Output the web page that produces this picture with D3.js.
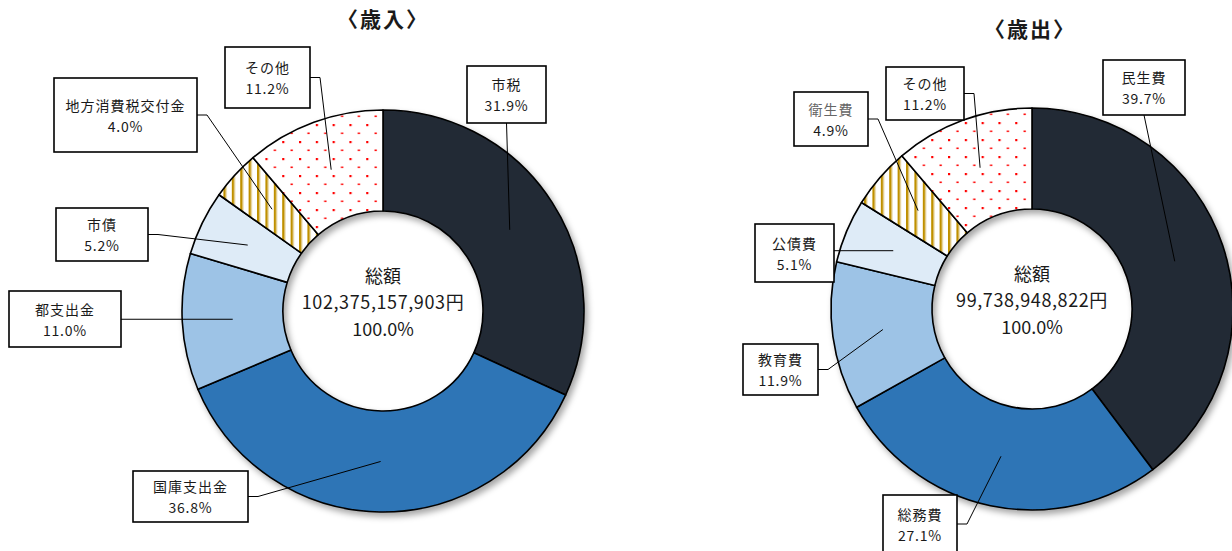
<!DOCTYPE html>
<html>
<head>
<meta charset="utf-8">
<script src="https://cdn.jsdelivr.net/npm/d3@7"></script>
<style>
  html, body { margin: 0; padding: 0; background: #fff; }
  svg { display: block; }
  text { font-family: "Noto Sans CJK JP", "Noto Sans", sans-serif; fill: #1a1a1a; }
</style>
</head>
<body>
<svg id="chart" width="1232" height="551"></svg>
<script>
// Revenue (歳入) breakdown, percent of total
const revenueCategories = ["市税", "国庫支出金", "都支出金", "市債", "地方消費税交付金", "その他"];
const revenueValues = [31.9, 36.8, 11.0, 5.2, 4.0, 11.2];
const revenueTotal = "102,375,157,903円";

// Expenditure (歳出) breakdown, percent of total
const expenditureCategories = ["民生費", "総務費", "教育費", "公債費", "衛生費", "その他"];
const expenditureValues = [39.7, 27.1, 11.9, 5.1, 4.9, 11.2];
const expenditureTotal = "99,738,948,822円";

const titles = ["〈歳入〉", "〈歳出〉"];
const centerHeading = "総額";
const centerShare = "100.0%";

// Slice fills in drawing order (clockwise from 12 o'clock)
const fills = ["#222a35", "#2e75b6", "#9dc3e6", "#deebf7", "url(#stripes)", "url(#dots)"];

const svg = d3.select("#chart");
const defs = svg.append("defs");

// soft drop shadow under each ring
const shadow = defs.append("filter").attr("id", "shadow")
  .attr("x", "-10%").attr("y", "-10%").attr("width", "130%").attr("height", "130%");
shadow.append("feDropShadow").attr("dx", 3).attr("dy", 4)
  .attr("stdDeviation", 3).attr("flood-color", "#000").attr("flood-opacity", 0.35);

// vertical gold stripes
const stripes = defs.append("pattern").attr("id", "stripes")
  .attr("patternUnits", "userSpaceOnUse").attr("width", 8.4).attr("height", 10);
stripes.append("rect").attr("width", 8.4).attr("height", 10).attr("fill", "#fff");
stripes.append("rect").attr("x", 0).attr("width", 2.4).attr("height", 10).attr("fill", "#bf9000");
stripes.append("rect").attr("x", 2.4).attr("width", 0.8).attr("height", 10).attr("fill", "#dcc070");

// staggered red dots
const dots = defs.append("pattern").attr("id", "dots")
  .attr("patternUnits", "userSpaceOnUse").attr("width", 16.8).attr("height", 17);
dots.append("rect").attr("width", 16.8).attr("height", 17).attr("fill", "#fff");
dots.append("rect").attr("x", 0).attr("y", 0).attr("width", 2.2).attr("height", 2.2).attr("fill", "#ff0000");
dots.append("rect").attr("x", 8.4).attr("y", 8.5).attr("width", 2.2).attr("height", 1.6).attr("fill", "#ff0000");

const pie = d3.pie().sort(null).value(d => d.value);

function drawDonut(cfg) {
  const data = cfg.categories.map((c, i) => ({ name: c, value: cfg.values[i], fill: fills[i] }));
  const arcs = pie(data);
  const arc = d3.arc().innerRadius(cfg.inner).outerRadius(cfg.outer);
  const labelArc = d3.arc().innerRadius((cfg.inner + cfg.outer) / 2).outerRadius((cfg.inner + cfg.outer) / 2);

  const g = svg.append("g").attr("transform", `translate(${cfg.cx},${cfg.cy})`);

  g.append("g").attr("filter", "url(#shadow)")
    .selectAll("path").data(arcs).join("path")
    .attr("d", arc)
    .attr("fill", d => d.data.fill)
    .attr("stroke", "#000")
    .attr("stroke-width", 1.6)
    .attr("stroke-linejoin", "round");

  // total in the hole
  const center = g.append("g").attr("text-anchor", "middle");
  center.append("text").attr("y", -34).attr("dy", "0.35em").attr("font-size", 18).text(centerHeading);
  center.append("text").attr("y", -8).attr("dy", "0.35em").attr("font-size", 18)
    .attr("letter-spacing", 0.6).text(cfg.total);
  center.append("text").attr("y", 19).attr("dy", "0.35em").attr("font-size", 18).text(centerShare);

  // title
  svg.append("text").attr("x", cfg.titleX).attr("y", cfg.titleY).attr("dy", "0.35em")
    .attr("text-anchor", "middle").attr("font-size", 21).attr("font-weight", "bold")
    .attr("letter-spacing", 2)
    .text(cfg.title);

  // callout boxes with leader lines
  arcs.forEach((a, i) => {
    const box = cfg.boxes[i];
    const [ex, ey] = labelArc.centroid(a);
    const end = [cfg.cx + ex, cfg.cy + ey];
    let pts;
    if (box.side === "bottom") {
      pts = [[box.x + box.w / 2, box.y + box.h], end];
    } else if (box.side === "straight") {
      pts = [[box.x + box.w, end[1]], end];
    } else {
      const my = box.y + box.h / 2;
      pts = [[box.x + box.w, my], [box.x + box.w + 10, my], end];
    }
    svg.append("path").attr("d", d3.line()(pts))
      .attr("fill", "none").attr("stroke", "#000").attr("stroke-width", 1);

    const mid = box.y + box.h / 2;
    const lg = svg.append("g");
    lg.append("rect").attr("x", box.x).attr("y", box.y).attr("width", box.w).attr("height", box.h)
      .attr("fill", "#fff").attr("stroke", "#000").attr("stroke-width", 1.6);
    lg.append("text").attr("x", box.x + box.w / 2).attr("y", mid - 9)
      .attr("dy", "0.35em").attr("text-anchor", "middle").attr("font-size", 14)
      .attr("letter-spacing", 1)
      .style("fill", box.muted ? "#666" : "#1a1a1a")
      .text(a.data.name);
    lg.append("text").attr("x", box.x + box.w / 2).attr("y", mid + 12)
      .attr("dy", "0.35em").attr("text-anchor", "middle").attr("font-size", 14)
      .attr("letter-spacing", 0.8)
      .text(d3.format(".1f")(a.data.value) + "%");
  });
}

drawDonut({
  categories: revenueCategories, values: revenueValues, total: revenueTotal,
  title: titles[0], titleX: 383, titleY: 20,
  cx: 383, cy: 311, inner: 100, outer: 201,
  boxes: [
    { x: 467, y: 66, w: 79, h: 57, side: "bottom" },
    { x: 133, y: 471, w: 115, h: 51 },
    { x: 9, y: 291, w: 112, h: 56, side: "straight" },
    { x: 56, y: 208, w: 92, h: 53 },
    { x: 54, y: 78, w: 143, h: 74 },
    { x: 225, y: 47, w: 85, h: 61 }
  ]
});

drawDonut({
  categories: expenditureCategories, values: expenditureValues, total: expenditureTotal,
  title: titles[1], titleX: 1030, titleY: 30,
  cx: 1032, cy: 309, inner: 100, outer: 201,
  boxes: [
    { x: 1103, y: 60, w: 82, h: 55, side: "bottom" },
    { x: 883, y: 495, w: 74, h: 58 },
    { x: 743, y: 344, w: 75, h: 51 },
    { x: 755, y: 224, w: 79, h: 58, side: "straight" },
    { x: 794, y: 92, w: 74, h: 54, muted: true },
    { x: 886, y: 67, w: 78, h: 53 }
  ]
});
</script>
</body>
</html>
